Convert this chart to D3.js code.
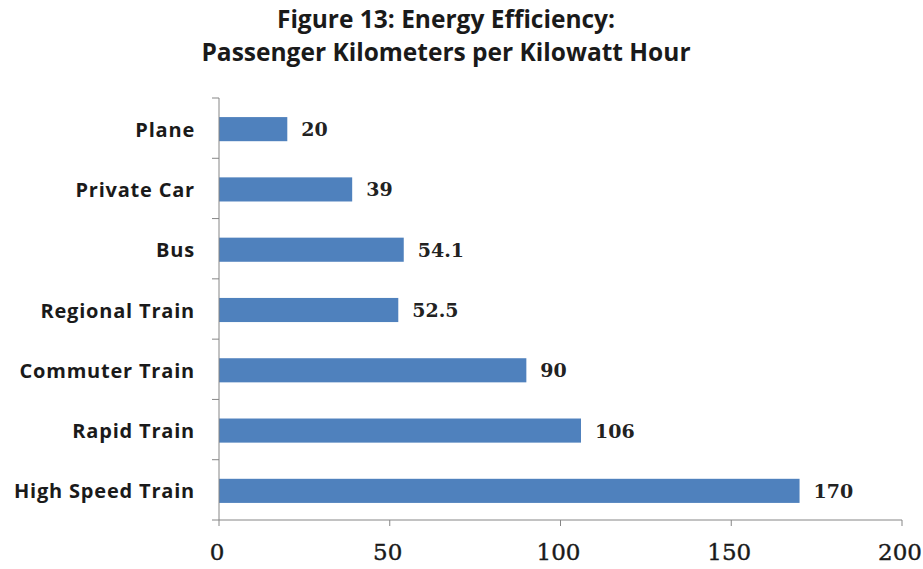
<!DOCTYPE html>
<html><head><meta charset="utf-8">
<script src="https://cdn.jsdelivr.net/npm/d3@7"></script>
<style>body{margin:0;background:#fff}svg{display:block}</style>
</head><body>
<script>
const categories = ["Plane","Private Car","Bus","Regional Train","Commuter Train","Rapid Train","High Speed Train"];
const values = [20, 39, 54.1, 52.5, 90, 106, 170];
const valueLabels = ["20","39","54.1","52.5","90","106","170"];
const xTicks = [0, 50, 100, 150, 200];
const titleLines = ["Figure 13: Energy Efficiency:", "Passenger Kilometers per Kilowatt Hour"];

const W = 923, H = 569;
const m = {left: 219, right: 21, top: 98, bottom: 49};
const svg = d3.select("body").append("svg").attr("width", W).attr("height", H);

const x = d3.scaleLinear().domain([0, 200]).range([m.left, W - m.right]);
const y = d3.scaleBand().domain(categories).range([m.top, H - m.bottom]).paddingInner(0.6).paddingOuter(0.3);

const sans = "'Open Sans', sans-serif";
const serif = "'DejaVu Serif', serif";

// title
svg.append("g").selectAll("text").data(titleLines).join("text")
  .attr("x", 446).attr("y", (d, i) => 28 + i * 33)
  .attr("text-anchor", "middle")
  .attr("font-family", sans).attr("font-weight", "bold").attr("font-size", 24.5)
  .attr("fill", "#1a1a1a").text(d => d);

// bars
svg.append("g").selectAll("rect").data(values).join("rect")
  .attr("x", x(0)).attr("y", (d, i) => y(categories[i]) + 1)
  .attr("width", d => x(d) - x(0)).attr("height", y.bandwidth())
  .attr("fill", "#4f81bd");

// value labels
svg.append("g").selectAll("text").data(values).join("text")
  .attr("x", d => x(d) + 14).attr("y", (d, i) => y(categories[i]) + 1 + y.bandwidth() / 2)
  .attr("dominant-baseline", "central")
  .attr("font-family", serif).attr("font-weight", "bold").attr("font-size", 19)
  .attr("fill", "#222").text((d, i) => valueLabels[i]);

// y axis
const ya = svg.append("g");
ya.append("line").attr("x1", x(0)).attr("x2", x(0)).attr("y1", m.top).attr("y2", H - m.bottom)
  .attr("stroke", "#868686").attr("stroke-width", 1);
const yTickPos = d3.range(categories.length + 1).map(i => m.top + i * (H - m.top - m.bottom) / categories.length);
ya.selectAll("line.t").data(yTickPos).join("line").attr("class", "t")
  .attr("x1", x(0) - 7).attr("x2", x(0)).attr("y1", d => d).attr("y2", d => d)
  .attr("stroke", "#868686");
ya.selectAll("text").data(categories).join("text")
  .attr("x", 195).attr("y", d => y(d) + 1 + y.bandwidth() / 2)
  .attr("text-anchor", "end").attr("dominant-baseline", "central")
  .attr("font-family", sans).attr("font-weight", "bold").attr("font-size", 20)
  .attr("letter-spacing", 0.8)
  .attr("fill", "#1a1a1a").text(d => d);

// x axis
const xa = svg.append("g").attr("transform", `translate(0,${H - m.bottom})`);
xa.append("line").attr("x1", x(0)).attr("x2", x(200)).attr("stroke", "#868686");
xa.selectAll("line.t").data(xTicks).join("line").attr("class", "t")
  .attr("x1", d => x(d)).attr("x2", d => x(d)).attr("y1", 0).attr("y2", 6)
  .attr("stroke", "#868686");
xa.selectAll("text").data(xTicks).join("text")
  .attr("x", d => x(d) - 2).attr("y", 40)
  .attr("text-anchor", "middle")
  .attr("font-family", serif).attr("font-size", 23)
  .attr("stroke", "#1a1a1a").attr("stroke-width", 0.4)
  .attr("fill", "#1a1a1a").text(d => d);
</script>
</body></html>
